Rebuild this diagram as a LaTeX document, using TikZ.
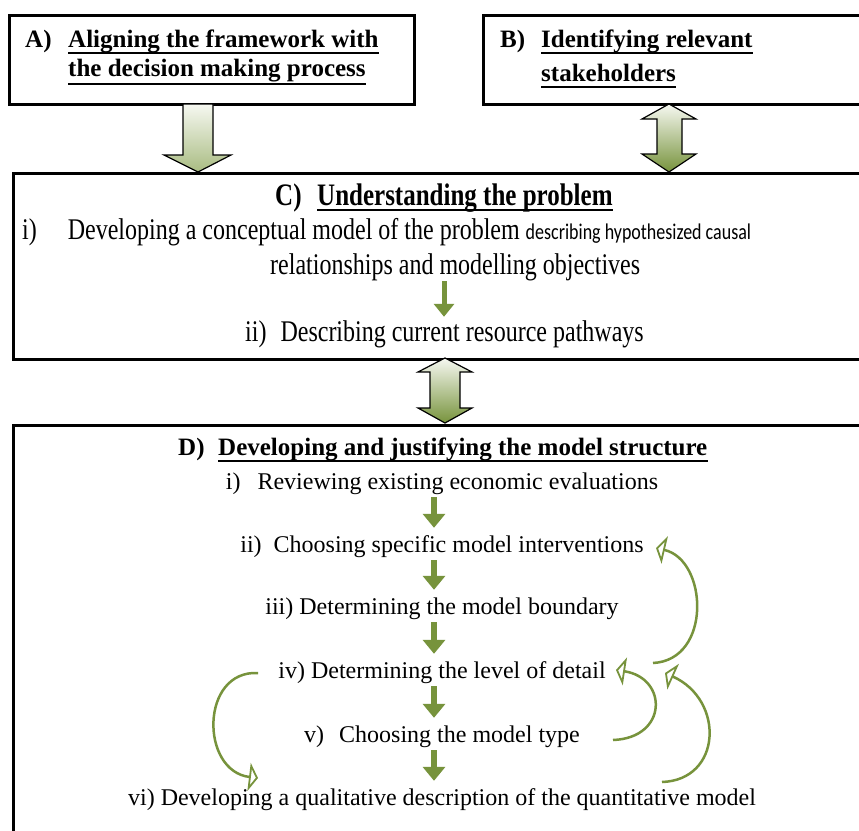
\documentclass[tikz,border=0pt]{standalone}
\usepackage{graphicx}
\usepackage{fontspec}
\setmainfont{Liberation Serif}
\newfontfamily\calib{Carlito}
\usetikzlibrary{arrows.meta}
\definecolor{gr}{HTML}{77933C}
\definecolor{grlight}{HTML}{A9BC82}
\definecolor{grtop}{HTML}{F6F8F1}
\newcommand\cst[1]{\scalebox{1}[1.25]{#1}}
\tikzset{
  box/.style={draw=black, line width=3pt, inner sep=0pt, anchor=north west},
  hd/.style={inner sep=0pt, font=\fontsize{25}{30}\selectfont\bfseries},
  tx/.style={inner sep=0pt, font=\fontsize{24}{28}\selectfont, text height=17pt, text depth=6pt},
  ul/.style={line width=2.5pt},
  garrow/.style={draw=gr, line width=6pt, -{Triangle[length=14pt, width=22pt]}, shorten <=2pt, shorten >=7pt},
  loopar/.style={draw=gr, line width=2.5pt, -{Triangle[open, length=9pt, width=28pt, line width=1.8pt]}},
  blockar/.style={draw=black, line width=1.2pt, top color=grtop, bottom color=gr},
  blockarl/.style={draw=black, line width=1.2pt, top color=grtop, bottom color=grlight},
}
\begin{document}
\begin{tikzpicture}[x=1pt,y=-1pt]
\path[clip] (0,0) rectangle (859,830);
\fill[white] (0,0) rectangle (859,830);

% boxes
\node[box, minimum width=405pt, minimum height=89pt] (A) at (8,14) {};
\node[box, minimum width=400pt, minimum height=89pt] (B) at (482,14) {};
\node[box, minimum width=870pt, minimum height=186pt] (C) at (12,172) {};
\node[box, minimum width=870pt, minimum height=430pt] (D) at (12,424) {};

% block arrows
\shadedraw[blockarl] (183,104) -- (213,104) -- (213,155) -- (231,155) -- (198,172) -- (164,155) -- (183,155) -- cycle;
\shadedraw[blockar] (669,104) -- (696,119) -- (682,119) -- (682,154) -- (696,154) -- (669,172) -- (642,154) -- (657,154) -- (657,119) -- (642,119) -- cycle;
\shadedraw[blockar] (445,358) -- (472,372) -- (460,372) -- (460,408) -- (472,408) -- (445,423) -- (418,408) -- (430,408) -- (430,372) -- (418,372) -- cycle;

% A
\node[hd, anchor=base west] (Alab) at (25,47) {A)};
\node[hd, anchor=base west] (A1) at (68,47) {Aligning the framework with};
\node[hd, anchor=base west] (A2) at (68,76) {the decision making process};
\draw[ul] ([yshift=-6pt]A1.base west) -- ([yshift=-6pt]A1.base east);
\draw[ul] ([yshift=-8pt]A2.base west) -- ([yshift=-8pt]A2.base east);

% B
\node[hd, anchor=base west] (Blab) at (500,47) {B)};
\node[hd, anchor=base west] (B1) at (541,47) {Identifying relevant};
\node[hd, anchor=base west] (B2) at (541,81) {stakeholders};
\draw[ul] ([yshift=-6pt]B1.base west) -- ([yshift=-6pt]B1.base east);
\draw[ul] ([yshift=-6pt]B2.base west) -- ([yshift=-6pt]B2.base east);

% C
\node[hd, anchor=base west] (Clab) at (275,205) {\cst{C)}};
\node[hd, anchor=base west] (Chd) at (317,205) {\cst{Understanding the problem}};
\draw[ul] ([yshift=-5pt]Chd.base west) -- ([yshift=-5pt]Chd.base east);
\node[tx, anchor=base west] (Ci) at (22,239) {\cst{i)\hspace{31pt}Developing a conceptual model of the problem {\calib\fontsize{18}{22}\selectfont describing hypothesized causal}}};
\node[tx, anchor=base west] (Ci2) at (270,274) {\cst{relationships and modelling objectives}};
\node[tx, anchor=base west] (Cii) at (245,341) {\cst{ii)\hspace{14pt}Describing current resource pathways}};
\coordinate (cx) at (444,0);
\draw[garrow, line width=5pt, -{Triangle[length=13pt, width=20pt]}, shorten <=1pt, shorten >=7pt] (Ci2.south -| cx) -- (Cii.north -| cx);

% D
\node[hd, anchor=base west] (Dlab) at (178,455) {D)};
\node[hd, anchor=base west] (Dhd) at (218,455) {Developing and justifying the model structure};
\draw[ul] ([yshift=-6pt]Dhd.base west) -- ([yshift=-6pt]Dhd.base east);

\node[tx, anchor=base] (t1) at (442,489) {i)\hspace{17pt}Reviewing existing economic evaluations};
\node[tx, anchor=base] (t2) at (442,552) {ii)\hspace{12pt}Choosing specific model interventions};
\node[tx, anchor=base] (t3) at (442,614) {iii)\hspace{6pt}Determining the model boundary};
\node[tx, anchor=base] (t4) at (442,678) {iv) Determining the level of detail};
\node[tx, anchor=base] (t5) at (442,742) {v)\hspace{15pt}Choosing the model type};
\node[tx, anchor=base] (t6) at (442,805) {vi) Developing a qualitative description of the quantitative model};

\coordinate (ax) at (434,0);
\draw[garrow] (t1.south -| ax) -- (t2.north -| ax);
\draw[garrow] (t2.south -| ax) -- (t3.north -| ax);
\draw[garrow] (t3.south -| ax) -- (t4.north -| ax);
\draw[garrow] (t4.south -| ax) -- (t5.north -| ax);
\draw[garrow] (t5.south -| ax) -- (t6.north -| ax);

% feedback loops
\coordinate (l1s) at (653,663); \coordinate (l1e) at (656,548);
\coordinate (l2s) at (613,740); \coordinate (l2e) at (616,670);
\coordinate (l3s) at (662,782); \coordinate (l3e) at (665,673);
\coordinate (l4s) at (258,673); \coordinate (l4e) at (258,778);
\draw[loopar] (l1s) .. controls (712,660) and (708,560) .. (l1e);
\draw[loopar] (l2s) .. controls (668,738) and (668,678) .. (l2e);
\draw[loopar] (l3s) .. controls (722,780) and (725,700) .. (l3e);
\draw[loopar] (l4s) .. controls (200,670) and (200,771) .. (l4e);
\end{tikzpicture}
\end{document}
